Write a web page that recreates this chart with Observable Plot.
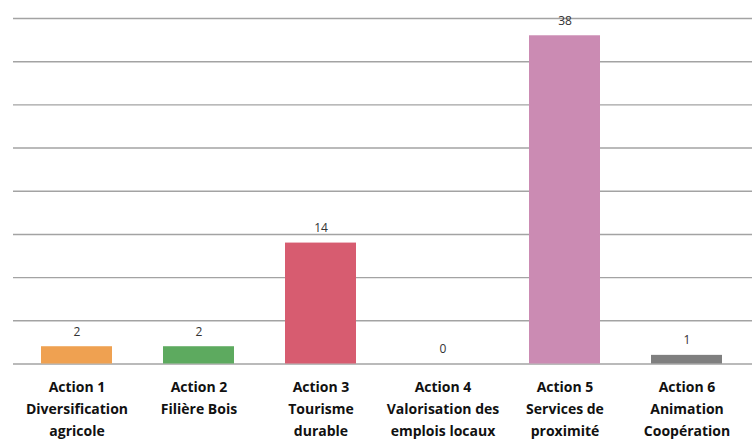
<!DOCTYPE html>
<html>
<head>
<meta charset="utf-8">
<script src="https://cdn.jsdelivr.net/npm/d3@7"></script>
<script src="https://cdn.jsdelivr.net/npm/@observablehq/plot@0.6"></script>
<style>
  html, body { margin: 0; padding: 0; background: #fff; }
  #chart { width: 752px; height: 444px; overflow: hidden; }
</style>
</head>
<body>
<div id="chart"></div>
<script>
const categories = [
  "Action 1\nDiversification\nagricole",
  "Action 2\nFilière Bois",
  "Action 3\nTourisme\ndurable",
  "Action 4\nValorisation des\nemplois locaux",
  "Action 5\nServices de\nproximité",
  "Action 6\nAnimation\nCoopération"
];
const values = [2, 2, 14, 0, 38, 1];
const colors = ["#EFA151", "#5DAA5F", "#D75C70", "#9E9E9E", "#CB8BB3", "#7F7F7F"];
const yTicks = [0, 5, 10, 15, 20, 25, 30, 35, 40];

const data = categories.map((c, i) => ({cat: c, value: values[i], color: colors[i]}));

const chart = Plot.plot({
  width: 752,
  height: 444,
  marginTop: 18,
  marginBottom: 80.5,
  marginLeft: 13,
  marginRight: 0,
  x: {domain: categories, range: [13.7, 748.3], paddingInner: 0.42, paddingOuter: 0.21, axis: null},
  y: {domain: [0, 40], axis: null},
  style: {fontFamily: "'Open Sans', Lato, sans-serif", background: "#fff"},
  marks: [
    Plot.ruleY(yTicks, {stroke: "#a3a3a3", strokeWidth: 1.4}),
    Plot.barY(data, {x: "cat", y: "value", fill: "color"}),
    Plot.text(data, {x: "cat", y: "value", text: d => String(d.value), dy: -15, fontSize: 12, fill: "#333"}),
    Plot.text(data, {x: "cat", y: 0, text: "cat", lineAnchor: "top", dy: 13, fontSize: 14, fontWeight: "bold", fill: "#111", lineHeight: 1.55})
  ]
});
document.getElementById("chart").appendChild(chart);
</script>
</body>
</html>
